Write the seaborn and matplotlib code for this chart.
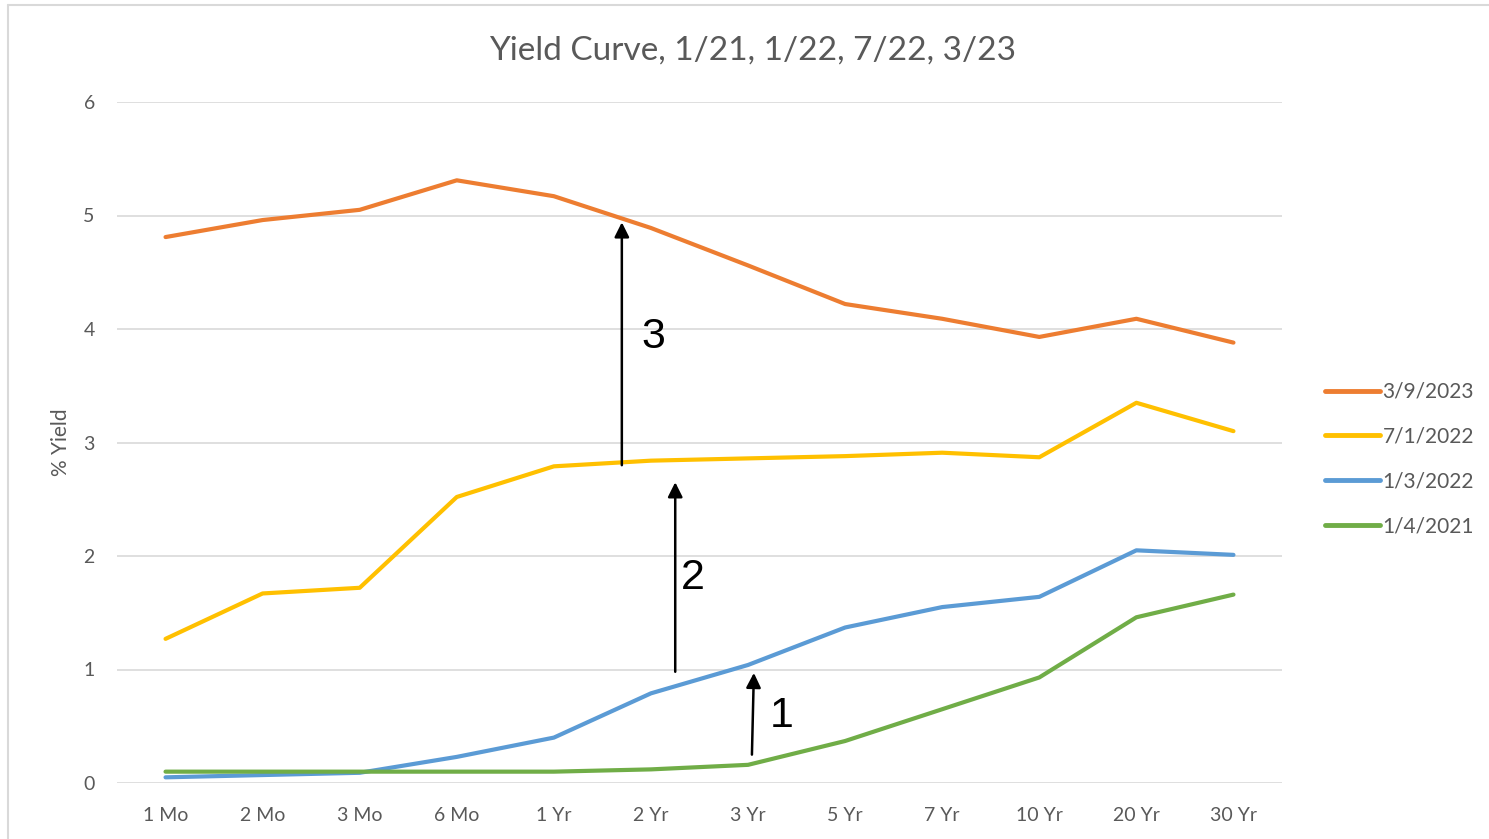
import matplotlib
matplotlib.use("Agg")
import matplotlib.pyplot as plt
import seaborn as sns
import pandas as pd
from matplotlib.lines import Line2D

maturities = ["1 Mo", "2 Mo", "3 Mo", "6 Mo", "1 Yr", "2 Yr", "3 Yr", "5 Yr", "7 Yr", "10 Yr", "20 Yr", "30 Yr"]
y_2023_03_09 = [4.81, 4.96, 5.05, 5.31, 5.17, 4.89, 4.56, 4.22, 4.09, 3.93, 4.09, 3.88]
y_2022_07_01 = [1.27, 1.67, 1.72, 2.52, 2.79, 2.84, 2.86, 2.88, 2.91, 2.87, 3.35, 3.10]
y_2022_01_03 = [0.05, 0.07, 0.09, 0.23, 0.40, 0.79, 1.04, 1.37, 1.55, 1.64, 2.05, 2.01]
y_2021_01_04 = [0.10, 0.10, 0.10, 0.10, 0.10, 0.12, 0.16, 0.37, 0.65, 0.93, 1.46, 1.66]
series_names = ["3/9/2023", "7/1/2022", "1/3/2022", "1/4/2021"]
series_colors = ["#ED7D31", "#FFC000", "#5B9BD5", "#70AD47"]
yticks = [0, 1, 2, 3, 4, 5, 6]

# arrows: (label, x, y_start, y_end, label_x, label_y)
arrow_labels = ["1", "2", "3"]
arrow_x_start = [6.04, 5.25, 4.70]
arrow_x_end = [6.06, 5.25, 4.70]
arrow_y_start = [0.25, 0.98, 2.80]
arrow_y_end = [0.97, 2.65, 4.94]
label_x = [6.35, 5.43, 5.02]
label_y = [0.59, 1.81, 3.93]

rows = []
for name, vals in zip(series_names, [y_2023_03_09, y_2022_07_01, y_2022_01_03, y_2021_01_04]):
    for m, v in zip(maturities, vals):
        rows.append({"Maturity": m, "Yield": v, "Date": name})
df = pd.DataFrame(rows)

sns.set_theme(style="white")
plt.rcParams["font.family"] = ["Lato", "DejaVu Sans"]

fig = plt.figure(figsize=(14.89, 8.39), dpi=100)
ax = fig.add_axes([117 / 1489, 1 - 783 / 839, (1282 - 117) / 1489, (783 - 102) / 839])

sns.lineplot(data=df, x="Maturity", y="Yield", hue="Date", hue_order=series_names,
             palette=series_colors, linewidth=3, sort=False, ax=ax, legend=False, zorder=3)

ax.set_xlim(-0.5, len(maturities) - 0.5)
ax.set_ylim(0, 6)
ax.set_yticks(yticks)
ax.set_yticklabels([str(t) for t in yticks])
ax.yaxis.grid(True, color="#D9D9D9", linewidth=1.2, zorder=0)
ax.xaxis.grid(False)
for s in ax.spines.values():
    s.set_visible(False)
ax.tick_params(axis="both", length=0, labelsize=14, colors="#595959")
ax.tick_params(axis="y", pad=16)
ax.tick_params(axis="x", pad=17)
ax.set_xlabel("")
ax.set_ylabel("% Yield", fontsize=15, color="#595959", labelpad=9)

fig.text(753 / 1489, 1 - 51 / 839, "Yield Curve, 1/21, 1/22, 7/22, 3/23", ha="center", va="center",
         fontsize=24, color="#595959")

for lab, xs, xe, ys, ye, lx, ly in zip(arrow_labels, arrow_x_start, arrow_x_end, arrow_y_start,
                                        arrow_y_end, label_x, label_y):
    ax.annotate("", xy=(xe, ye), xytext=(xs, ys),
                arrowprops=dict(arrowstyle="-|>", color="black", lw=1.8, mutation_scale=22,
                                shrinkA=0, shrinkB=0), zorder=5)
    ax.text(lx, ly, lab, fontsize=31, color="black", ha="center", va="center",
            family=["Liberation Sans", "DejaVu Sans"], zorder=5)

handles = [Line2D([0], [0], color=c, lw=3.5, solid_capstyle="round") for c in series_colors]
leg = fig.legend(handles, series_names, loc="center left", bbox_to_anchor=(1306 / 1489, 1 - 459 / 839),
                 frameon=False, fontsize=15, handlelength=2.65, handletextpad=0.12, labelspacing=1.19,
                 labelcolor="#595959")

# chart border (top and left visible)
fig.add_artist(Line2D([8 / 1489, 1.0], [1 - 5 / 839, 1 - 5 / 839], transform=fig.transFigure,
                      color="#D9D9D9", lw=1.5))
fig.add_artist(Line2D([8 / 1489, 8 / 1489], [0, 1 - 5 / 839], transform=fig.transFigure,
                      color="#D9D9D9", lw=1.5))

fig.savefig("out.png", dpi=100, facecolor="white")
